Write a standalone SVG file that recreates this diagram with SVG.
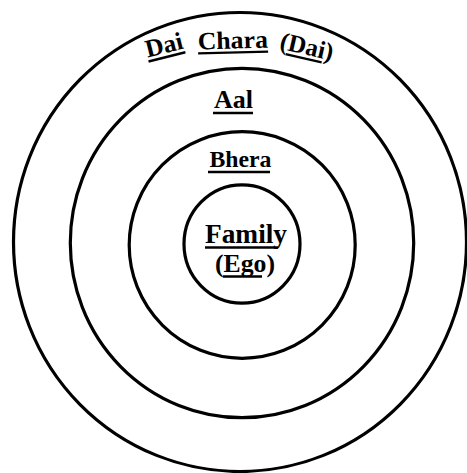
<svg xmlns="http://www.w3.org/2000/svg" width="467" height="473" viewBox="0 0 467 473">
<style>
.ring{fill:none;stroke:#000;stroke-width:3.2}
.lbl{font-family:"Liberation Serif","Times New Roman",serif;font-weight:bold;font-size:25px;fill:#000}
.ul{stroke:#000;stroke-width:2.4;fill:none}
</style>
<rect width="467" height="473" fill="#fff"/>
<g id="dai-chara">
<ellipse class="ring" cx="240" cy="242" rx="226.5" ry="229.5"/>
<g transform="translate(166,53) rotate(-14)">
<text class="lbl" x="-19" y="0" textLength="38" lengthAdjust="spacingAndGlyphs">Dai</text>
<line class="ul" x1="-19" y1="4" x2="19" y2="4"/>
</g>
<g transform="translate(233,48.5) rotate(-1.5)">
<text class="lbl" x="-35" y="0" textLength="70" lengthAdjust="spacingAndGlyphs">Chara</text>
<line class="ul" x1="-35" y1="4" x2="35" y2="4"/>
</g>
<g transform="translate(305,54.5) rotate(13)">
<text class="lbl" x="-27" y="0" textLength="54" lengthAdjust="spacingAndGlyphs">(Dai)</text>
<line class="ul" x1="-19" y1="4" x2="18" y2="4"/>
</g>
</g>
<g id="aal">
<ellipse class="ring" cx="242" cy="243" rx="171.7" ry="174.7"/>
<text class="lbl" x="214" y="108.3" textLength="39" lengthAdjust="spacingAndGlyphs" style="font-size:26px">Aal</text>
<line class="ul" x1="213" y1="113" x2="253" y2="113"/>
</g>
<g id="bhera">
<ellipse class="ring" cx="242.2" cy="245" rx="113" ry="113.3"/>
<text class="lbl" x="209.5" y="166.7" textLength="62" lengthAdjust="spacingAndGlyphs" style="font-size:24px">Bhera</text>
<line class="ul" x1="208" y1="172" x2="270" y2="172"/>
</g>
<g id="family">
<ellipse class="ring" cx="242" cy="244" rx="58" ry="59.2"/>
<text class="lbl" x="205" y="243.3" textLength="82" lengthAdjust="spacingAndGlyphs" style="font-size:27px">Family</text>
<line class="ul" x1="205" y1="247.5" x2="278" y2="247.5"/>
<text class="lbl" x="215" y="271.7" textLength="60" lengthAdjust="spacingAndGlyphs" style="font-size:26px">(Ego)</text>
<line class="ul" x1="223" y1="276.5" x2="262" y2="276.5"/>
</g>
<g id="connectors"/>
</svg>
